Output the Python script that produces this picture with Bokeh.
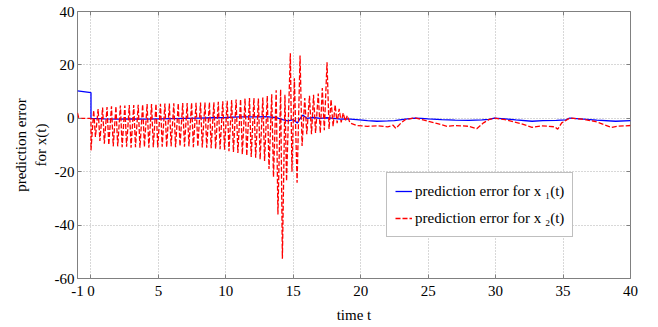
from bokeh.plotting import figure
from bokeh.models import (Range1d, FixedTicker, LinearAxis, Legend, LegendItem,
                          CustomLabelingPolicy)
from bokeh.embed import file_html
from bokeh.resources import INLINE

# ---------------- data ----------------
x_ticks = [-1, 0, 5, 10, 15, 20, 25, 30, 35, 40]
y_ticks = [-60, -40, -20, 0, 20, 40]

# prediction error for x1(t) (blue, solid)
blue_t = [-1, 0, 0, 1, 2, 3, 4, 5, 6, 7, 8, 9, 10, 11, 12, 13, 13.8, 14.2, 14.6,
          15.0, 15.3, 15.45, 15.7, 16, 16.5, 17, 17.5, 18, 18.5, 19, 19.7, 20.5,
          21.2, 22, 22.5, 23.3, 24, 24.5, 25, 26, 27, 28, 29, 29.5, 29.9, 30.7,
          31.5, 32.7, 33.5, 34.5, 35.2, 35.5, 36.5, 37.5, 38.9, 40]
blue_v = [10.3, 9.6, 0, -0.2, -0.3, -0.2, -0.3, -0.2, -0.1, 0, 0.1, 0.2, 0.3, 0.5,
          0.5, 0.6, 0.2, -0.5, -1, -0.5, -1.8, -0.5, 1.2, 0, 0.3, 0, 0.2, 0, -0.3,
          -0.2, -0.5, -0.9, -1.1, -1, -0.9, -0.3, 0.1, 0, -0.2, -0.5, -0.7, -0.8,
          -0.6, -0.4, 0.1, -0.2, -0.6, -1.1, -0.9, -0.8, -0.6, 0.1, -0.3, -0.7,
          -1.1, -0.9]

# prediction error for x2(t) (red, dashed)
red_pre_t = [-1.0, -0.9, 0.0, 0.0]
red_pre_v = [2.0, 0.0, 0.0, -12.0]

red_hi_t = [0.20, 0.53, 0.86, 1.19, 1.52, 1.85, 2.18, 2.51, 2.84, 3.17, 3.50, 3.83,
            4.16, 4.49, 4.82, 5.15, 5.48, 5.81, 6.14, 6.47, 6.80, 7.13, 7.46, 7.79,
            8.12, 8.45, 8.78, 9.11, 9.44, 9.77, 10.10, 10.43, 10.76, 11.09, 11.42,
            11.75, 12.08, 12.41, 12.74, 13.07, 13.40, 13.73, 14.06, 14.38, 14.78,
            15.08, 15.50, 15.85, 16.20, 16.50, 16.85, 17.15, 17.50, 17.80, 18.10,
            18.40, 18.70, 19.00]
red_hi_v = [3.0, 3.5, 4.0, 4.2, 4.5, 4.5, 4.8, 4.8, 5.0, 5.0, 5.1, 5.2, 5.3, 5.3,
            5.4, 5.4, 5.5, 5.5, 5.6, 5.6, 5.7, 5.7, 5.8, 5.8, 5.9, 5.9, 6.0, 6.0,
            6.2, 6.4, 6.6, 6.8, 7.0, 7.2, 7.4, 7.6, 7.6, 7.4, 7.8, 8.4, 9.0, 10.5,
            10.8, 8.8, 24.4, 15.0, 23.5, 7.6, 8.4, 8.8, 9.3, 11.3, 21.0, 7.0, 5.0,
            3.5, 2.0, 1.0]
red_lo_t = [0.33, 0.66, 0.99, 1.32, 1.65, 1.98, 2.31, 2.64, 2.97, 3.30, 3.63, 3.96,
            4.29, 4.62, 4.95, 5.28, 5.61, 5.94, 6.27, 6.60, 6.93, 7.26, 7.59, 7.92,
            8.25, 8.58, 8.91, 9.24, 9.57, 9.90, 10.23, 10.56, 10.89, 11.22, 11.55,
            11.88, 12.21, 12.54, 12.87, 13.20, 13.53, 13.86, 14.19, 14.50, 14.90,
            15.28, 15.65, 16.00, 16.35, 16.65, 17.00, 17.30, 17.65, 17.95, 18.25,
            18.55, 18.85, 19.20]
red_lo_v = [-7.0, -8.5, -9.5, -10.0, -10.5, -10.5, -10.8, -10.6, -11.0, -10.8,
            -11.0, -10.7, -11.0, -10.8, -10.9, -10.6, -10.8, -10.5, -10.8, -10.4,
            -10.6, -10.5, -10.8, -10.6, -10.9, -11.0, -11.2, -11.4, -11.6, -11.8,
            -12.3, -12.6, -13.0, -13.5, -14.0, -14.5, -14.8, -15.4, -16.0, -19.0,
            -22.0, -36.0, -52.6, -23.5, -20.0, -24.1, -10.4, -6.0, -6.0, -5.5,
            -5.5, -4.5, -4.0, -3.0, -1.8, -1.5, -1.0, -1.7]

red_tail_t = [19.7, 20.5, 21.2, 22.0, 22.4, 22.6, 23.0, 23.3, 24.0, 24.7, 25.7, 26.4,
              27.0, 28.0, 28.6, 29.1, 29.5, 29.9, 30.7, 31.9, 32.7, 33.4, 34.4, 34.6,
              34.9, 35.5, 36.4, 37.4, 38.6, 39.0, 40.0]
red_tail_v = [-2.7, -3.0, -2.8, -3.2, -2.6, -3.8, -1.7, -0.5, 0.2, -0.7, -2.0, -3.0,
              -2.7, -3.0, -3.9, -1.7, -0.5, 0.1, -0.5, -2.0, -3.4, -2.8, -3.2, -4.1,
              -1.7, 0.1, -0.3, -1.2, -3.4, -3.0, -2.7]

# build the red series table from the arrays (hi/lo alternate)
red_t = list(red_pre_t)
red_v = list(red_pre_v)
for ht, hv, lt, lv in zip(red_hi_t, red_hi_v, red_lo_t, red_lo_v):
    red_t += [ht, lt]
    red_v += [hv, lv]
red_t += red_tail_t
red_v += red_tail_v

label1 = "prediction error for x \u2081(t)"
label2 = "prediction error for x \u2082(t)"

# ---------------- figure ----------------
FONT = "Liberation Serif"
GRAY = "#808080"

p = figure(width=658, height=327, output_backend="svg", toolbar_location=None,
           x_range=Range1d(-1, 40), y_range=Range1d(-60, 40),
           min_border_left=77, min_border_right=28, min_border_top=10,
           min_border_bottom=49)
p.background_fill_color = "white"
p.border_fill_color = "white"
p.outline_line_color = GRAY
p.outline_line_width = 1

blue = p.line(blue_t, blue_v, line_color="#0000ff", line_width=1.3)
red = p.line(red_t, red_v, line_color="#ff0000", line_width=1.3, line_dash="5 2")

for ax in (p.xaxis[0], p.yaxis[0]):
    ax.axis_line_color = None
    ax.major_tick_line_color = GRAY
    ax.major_tick_in = 4
    ax.major_tick_out = 0
    ax.minor_tick_line_color = None
    ax.major_label_text_font = FONT
    ax.major_label_text_font_size = "15px"
    ax.major_label_text_font_style = "normal"
    ax.major_label_text_color = "black"
    ax.axis_label_text_font = FONT
    ax.axis_label_text_font_size = "15px"
    ax.axis_label_text_font_style = "normal"
    ax.axis_label_text_color = "black"

p.xaxis[0].ticker = FixedTicker(ticks=x_ticks)
p.yaxis[0].ticker = FixedTicker(ticks=y_ticks)
p.xaxis[0].major_label_overrides = {t: str(t) for t in x_ticks}
p.yaxis[0].major_label_overrides = {t: str(t) for t in y_ticks}
p.xaxis[0].axis_label = "time t"
p.yaxis[0].axis_label = "prediction error\nfor x(t)"
p.xaxis[0].major_label_standoff = 7
p.xaxis[0].axis_label_standoff = 8
p.yaxis[0].major_label_standoff = 3
p.yaxis[0].axis_label_standoff = 3

# matlab style box ticks on top / right (no labels)
no_labels = CustomLabelingPolicy(code="""
for (const i of indices) indices.unset(i)
return indices
""")
top = LinearAxis(ticker=FixedTicker(ticks=x_ticks), axis_line_color=None,
                 major_tick_line_color=GRAY, major_tick_in=4, major_tick_out=0,
                 minor_tick_line_color=None, major_label_policy=no_labels,
                 major_label_standoff=0)
right = LinearAxis(ticker=FixedTicker(ticks=y_ticks), axis_line_color=None,
                   major_tick_line_color=GRAY, major_tick_in=4, major_tick_out=0,
                   minor_tick_line_color=None, major_label_policy=no_labels,
                   major_label_standoff=0)
p.add_layout(top, "above")
p.add_layout(right, "right")

for g in (p.xgrid[0], p.ygrid[0]):
    g.grid_line_color = "#b0b0b0"
    g.grid_line_dash = "1 2"
    g.grid_line_width = 1
p.xgrid[0].ticker = FixedTicker(ticks=x_ticks)
p.ygrid[0].ticker = FixedTicker(ticks=y_ticks)

legend = Legend(items=[LegendItem(label=label1, renderers=[blue]),
                       LegendItem(label=label2, renderers=[red])],
                location=(309, 41))
legend.label_text_font = FONT
legend.label_text_font_size = "15px"
legend.label_text_color = "black"
legend.glyph_width = 17
legend.glyph_height = 20
legend.label_height = 20
legend.label_standoff = 3
legend.padding = 8
legend.spacing = 7
legend.margin = 0
legend.border_line_color = GRAY
legend.border_line_width = 1
legend.background_fill_color = "white"
legend.background_fill_alpha = 1.0
p.add_layout(legend, "center")

open("out.html", "w").write(file_html(p, INLINE))
